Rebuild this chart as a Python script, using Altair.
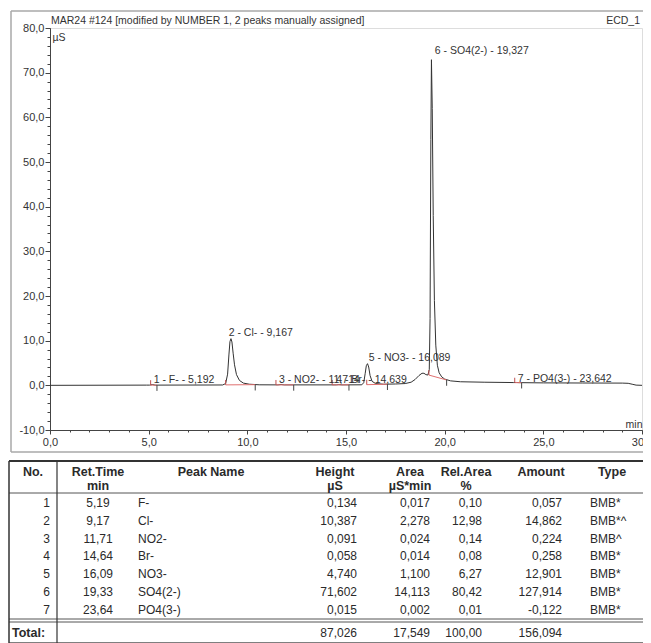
import altair as alt
import pandas as pd

# ---------------- data ----------------
trace_t = [0, 4.9, 5.05, 5.19, 5.33, 8.75, 8.9, 9.0, 9.07, 9.12, 9.17, 9.22, 9.28, 9.35, 9.45,
           9.6, 9.8, 10.1, 10.6, 11.55, 11.71, 11.87, 14.5, 14.64, 14.78, 15.8, 15.9, 15.97,
           16.03, 16.09, 16.15, 16.22, 16.32, 16.5, 16.9, 17.5, 18.0, 18.3, 18.5, 18.7, 18.85,
           18.95, 19.05, 19.15, 19.22, 19.26, 19.3, 19.33, 19.37, 19.42, 19.48, 19.55, 19.63,
           19.72, 19.85, 20.0, 20.3, 20.8, 22.0, 23.5, 23.64, 23.8, 25.0, 27.0, 29.0, 29.3,
           29.5, 29.7, 30.0]
trace_v = [0.0, 0.05, 0.05, 0.18, 0.05, 0.08, 0.4, 2.5, 7.0, 9.8, 10.45, 9.7, 7.2, 4.6, 2.4,
           1.1, 0.5, 0.25, 0.12, 0.1, 0.19, 0.1, 0.1, 0.16, 0.1, 0.12, 0.6, 2.6,
           4.4, 4.85, 4.1, 2.2, 0.9, 0.4, 0.25, 0.3, 0.4, 0.7, 1.3, 2.2, 2.7,
           2.7, 2.4, 2.3, 3.5, 15.0, 55.0, 72.9, 62.0, 38.0, 19.0, 9.0, 4.5,
           2.8, 1.9, 1.4, 1.0, 0.8, 0.7, 0.62, 0.64, 0.6, 0.55, 0.52, 0.5, 0.45,
           0.25, 0.05, 0.0]

peak_no = [1, 2, 3, 4, 5, 6, 7]
ret_time = ["5,19", "9,17", "11,71", "14,64", "16,09", "19,33", "23,64"]
peak_name = ["F-", "Cl-", "NO2-", "Br-", "NO3-", "SO4(2-)", "PO4(3-)"]
height = ["0,134", "10,387", "0,091", "0,058", "4,740", "71,602", "0,015"]
area = ["0,017", "2,278", "0,024", "0,014", "1,100", "14,113", "0,002"]
rel_area = ["0,10", "12,98", "0,14", "0,08", "6,27", "80,42", "0,01"]
amount = ["0,057", "14,862", "0,224", "0,258", "12,901", "127,914", "-0,122"]
ptype = ["BMB*", "BMB*^", "BMB^", "BMB*", "BMB*", "BMB*", "BMB*"]
total_label = "Total:"
total_height, total_area, total_rel, total_amount = "87,026", "17,549", "100,00", "156,094"

label_text = ["1 - F- - 5,192", "2 - Cl- - 9,167", "3 - NO2- - 11,714", "4 - Br- - 14,639",
              "5 - NO3- - 16,089", "6 - SO4(2-) - 19,327", "7 - PO4(3-) - 23,642"]
label_t = [5.1, 8.9, 11.45, 14.35, 16.0, 19.35, 23.55]
label_level = [0.5, 11.0, 0.5, 0.5, 5.4, 74.2, 0.8]

peak_start = [5.1, 8.9, 11.45, 14.3, 16.05, 19.2, 23.55]
peak_end = [5.42, 10.4, 12.35, 15.15, 17.1, 20.1, 23.9]
seg_y1 = [0.05, 0.1, 0.1, 0.1, 0.15, 2.3, 0.6]
seg_y2 = [0.05, 0.15, 0.1, 0.12, 0.25, 1.2, 0.6]

title_text = "MAR24 #124 [modified by NUMBER 1, 2 peaks manually assigned]"
channel_text = "ECD_1"

# ---------------- layout / style ----------------
W, H = 592, 402
OX, OY = 50, 28          # page position of plot origin
FONT = "Liberation Sans"
TXT = "#2a2a2a"

xs = alt.Scale(domain=[0, 30], nice=False, zero=False)
ys = alt.Scale(domain=[-10, 80], nice=False, zero=False)

common_axis = dict(labelFont=FONT, labelFontSize=11, labelColor="#333", domainColor="#444",
                   tickColor="#444", grid=False, titleFont=FONT, titleFontWeight="normal",
                   titleFontSize=10.5, titleColor="#333")

major_x = alt.Axis(values=[0, 5, 10, 15, 20, 25, 30], labelExpr="datum.value + ',0'", tickSize=4,
                   labelPadding=2, orient="bottom", labelFlush=False, labelOverlap=False,
                   title="min", titleX=W, titleY=-6, titleAlign="right", titleBaseline="middle",
                   **common_axis)
minor_x = alt.Axis(values=list(range(0, 31)), labels=False, domain=False, tickSize=2,
                   orient="bottom", title=None, **common_axis)
major_y = alt.Axis(values=list(range(-10, 81, 10)), labelExpr="datum.value + ',0'", tickSize=5,
                   labelPadding=1, orient="left", labelOverlap=False,
                   title="µS", titleAngle=0, titleX=2, titleY=9, titleAlign="left",
                   titleBaseline="middle", **common_axis)
minor_y = alt.Axis(values=list(range(-10, 81, 2)), labels=False, domain=False, tickSize=3,
                   orient="left", title=None, **common_axis)

trace_df = pd.DataFrame({"t": trace_t, "v": trace_v})
peaks_df = pd.DataFrame({"s": peak_start, "e": peak_end, "y1": seg_y1, "y2": seg_y2,
                         "lt": label_t, "ly": label_level, "lab": label_text})

trace = alt.Chart(trace_df).mark_line(color="#333", strokeWidth=1).encode(
    x=alt.X("t:Q", scale=xs, axis=major_x),
    y=alt.Y("v:Q", scale=ys, axis=major_y),
)
segs = alt.Chart(peaks_df).mark_rule(color="#e07070", strokeWidth=1).encode(
    x=alt.X("s:Q", scale=xs, axis=minor_x), x2="e:Q",
    y=alt.Y("y1:Q", scale=ys, axis=minor_y), y2="y2:Q",
)
start_ticks = alt.Chart(peaks_df).transform_calculate(top="datum.y1 + 1.1").mark_rule(
    color="#c05050", strokeWidth=1).encode(
    x=alt.X("s:Q", scale=xs, axis=None),
    y=alt.Y("y1:Q", scale=ys, axis=None), y2="top:Q",
)
end_ticks = alt.Chart(peaks_df).transform_calculate(bot="datum.y2 - 1.3").mark_rule(
    color="#444", strokeWidth=1).encode(
    x=alt.X("e:Q", scale=xs, axis=None),
    y=alt.Y("y2:Q", scale=ys, axis=None), y2="bot:Q",
)
labels = alt.Chart(peaks_df).mark_text(align="left", baseline="alphabetic", dx=3, font=FONT,
                                       fontSize=10.5, color="#333").encode(
    x=alt.X("lt:Q", scale=xs, axis=None),
    y=alt.Y("ly:Q", scale=ys, axis=None),
    text="lab:N",
)
chromo = alt.layer(trace, segs, start_ticks, end_ticks, labels).resolve_axis(
    x="independent", y="independent")

# ---------------- table (positions are layout constants, page px) ----------------
col_x = {"no": 50, "ret": 98, "name": 138, "height": 357, "area": 430, "rel": 482,
         "amount": 562, "type": 590}
head_x = {"no": 33, "ret": 98, "name": 211, "height": 335, "area": 410, "rel": 466,
          "amount": 541, "type": 612}
Y_TOP, Y_H1, Y_H2, Y_SEP = 461, 472, 486, 493
Y_ROW0, ROW_STEP = 503, 17.8
Y_DBL1, Y_DBL2, Y_TOT, Y_BOT = 619, 622, 633, 643
X_LEFT, X_VSEP, X_RIGHT = 9, 57, 700

cell_rows = []
for i in range(len(peak_no)):
    py = Y_ROW0 + i * ROW_STEP
    vals = [("no", str(peak_no[i]), "right"), ("ret", ret_time[i], "center"),
            ("name", peak_name[i], "left"), ("height", height[i], "right"),
            ("area", area[i], "right"), ("rel", rel_area[i], "right"),
            ("amount", amount[i], "right"), ("type", ptype[i], "left")]
    for key, txt, al in vals:
        cell_rows.append({"px": col_x[key] - OX, "py": py - OY, "txt": txt, "al": al, "bold": 0})
for key, txt in [("height", total_height), ("area", total_area), ("rel", total_rel),
                 ("amount", total_amount)]:
    cell_rows.append({"px": col_x[key] - OX, "py": Y_TOT - OY, "txt": txt, "al": "right", "bold": 0})
cell_rows.append({"px": 12 - OX, "py": Y_TOT - OY, "txt": total_label, "al": "left", "bold": 1})
headers = [("no", "No.", ""), ("ret", "Ret.Time", "min"), ("name", "Peak Name", ""),
           ("height", "Height", "µS"), ("area", "Area", "µS*min"), ("rel", "Rel.Area", "%"),
           ("amount", "Amount", ""), ("type", "Type", "")]
for key, l1, l2 in headers:
    cell_rows.append({"px": head_x[key] - OX, "py": Y_H1 - OY, "txt": l1, "al": "center", "bold": 1})
    if l2:
        cell_rows.append({"px": head_x[key] - OX, "py": Y_H2 - OY, "txt": l2, "al": "center", "bold": 1})
cells = pd.DataFrame(cell_rows)

# chart heading texts (title at left, channel name at right)
heads = pd.DataFrame([
    {"px": 51 - OX, "py": 21 - OY, "txt": title_text, "al": "left"},
    {"px": 640 - OX, "py": 21 - OY, "txt": channel_text, "al": "right"},
])

line_rows = [
    # outer frame of the chromatogram
    (11, 11, X_RIGHT, 11, 1.5, "#a8a8a8"), (11, 11, 11, 452, 1.5, "#a8a8a8"),
    (11, 452, X_RIGHT, 452, 1.5, "#a8a8a8"),
    # table
    (X_LEFT, Y_TOP, X_RIGHT, Y_TOP, 2.2, "#333"), (X_LEFT, Y_SEP, X_RIGHT, Y_SEP, 1, "#555"),
    (X_LEFT, Y_DBL1, X_RIGHT, Y_DBL1, 1, "#555"), (X_LEFT, Y_DBL2, X_RIGHT, Y_DBL2, 1, "#555"),
    (X_LEFT, Y_BOT, X_RIGHT, Y_BOT, 1.5, "#555"),
    (X_LEFT, Y_TOP, X_LEFT, Y_BOT, 1.5, "#333"), (X_VSEP, Y_TOP, X_VSEP, Y_BOT, 1.2, "#333"),
]
lines = pd.DataFrame([{"px": a - OX, "py": b - OY, "px2": c - OX, "py2": d - OY, "w": w, "c": col}
                      for a, b, c, d, w, col in line_rows])

pxs = alt.Scale(domain=[-100, 700], range=[-100, 700], nice=False, zero=False)
pys = alt.Scale(domain=[-100, 700], range=[-100, 700], nice=False, zero=False)

rules = alt.Chart(lines).mark_rule().encode(
    x=alt.X("px:Q", scale=pxs, axis=None), x2="px2:Q",
    y=alt.Y("py:Q", scale=pys, axis=None), y2="py2:Q",
    strokeWidth=alt.StrokeWidth("w:Q", scale=None),
    color=alt.Color("c:N", scale=None),
)


def text_layer(al, bold, size):
    return alt.Chart(cells).transform_filter(
        f"datum.al == '{al}' && datum.bold == {bold}").mark_text(
        align=al, baseline="middle", font=FONT, fontSize=size,
        fontWeight="bold" if bold else "normal", color=TXT).encode(
        x=alt.X("px:Q", scale=pxs, axis=None),
        y=alt.Y("py:Q", scale=pys, axis=None),
        text="txt:N",
    )


def head_layer(al):
    return alt.Chart(heads).transform_filter(f"datum.al == '{al}'").mark_text(
        align=al, baseline="middle", font=FONT, fontSize=10.5, color="#333").encode(
        x=alt.X("px:Q", scale=pxs, axis=None),
        y=alt.Y("py:Q", scale=pys, axis=None),
        text="txt:N",
    )


table = alt.layer(rules, text_layer("left", 0, 12), text_layer("center", 0, 12),
                  text_layer("right", 0, 12), text_layer("left", 1, 12.5),
                  text_layer("center", 1, 12.5), head_layer("left"), head_layer("right"))

chart = alt.layer(chromo, table).resolve_scale(x="independent", y="independent").properties(
    width=W, height=H,
    autosize=alt.AutoSizeParams(type="none"),
    padding={"left": OX - 8, "top": OY - 8, "right": 1, "bottom": 213},
).configure_view(stroke="#888", strokeWidth=1).configure(background="white")

chart.save("out.html", embed_options={"renderer": "svg", "actions": False})
